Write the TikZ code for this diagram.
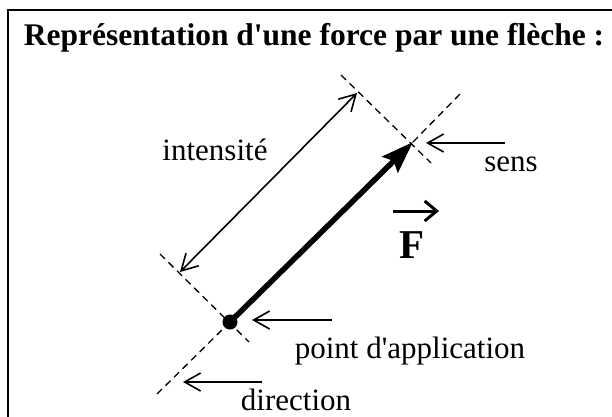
\documentclass[tikz,border=0pt]{standalone}
\usepackage{fontspec}
\setmainfont{Liberation Serif}[Ligatures=TeXOff]
\usetikzlibrary{arrows.meta}
\begin{document}
\begin{tikzpicture}[x=1pt,y=-1pt,
  lbl/.style={font=\fontsize{31}{31}\selectfont, inner sep=0pt, anchor=base},
  dashline/.style={line width=1.3pt, dash pattern=on 7pt off 5pt},
  thin/.style={line width=1.6pt, -{Straight Barb[length=16pt,width=18pt,line width=1.6pt]}},
  force/.style={line width=5.5pt, -{Stealth[length=32pt,width=22pt,inset=5pt]}}]
\useasboundingbox (0,0) rectangle (612,416);
\fill[white] (0,0) rectangle (612,416);
% frame
\draw[line width=2.4pt] (8,430) -- (8,10) -- (630,10);
% title
\node[lbl, font=\fontsize{31.5}{31.5}\selectfont\bfseries] (title) at (314,45) {Représentation d'une force par une flèche :};
% key points
\coordinate (A) at (230,322);
\coordinate (T) at (413,142);
\coordinate (d1) at (157,394);
\coordinate (d2) at (461,93);
\coordinate (pT1) at (341,75);
\coordinate (pT2) at (431,163);
\coordinate (pA1) at (160,254);
\coordinate (pA2) at (249,342);
\coordinate (i1) at (180,272);
\coordinate (i2) at (357,93);
% dashed construction lines
\draw[dashline] (d1) -- (A);
\draw[dashline] (T) -- (d2);
\draw[dashline] (pT1) -- (pT2);
\draw[dashline] (pA1) -- (pA2);
% intensity double arrow
\draw[line width=1.6pt, {Straight Barb[length=16pt,width=18pt,line width=1.6pt]}-{Straight Barb[length=16pt,width=18pt,line width=1.6pt]}] (i1) -- (i2);
% force
\draw[force] (A) -- (T);
\fill (A) circle (7.5);
% labels
\node[lbl] (int) at (215,160) {intensité};
\node[lbl] (sens) at (511,171) {sens};
\node[lbl] (pa) at (410,358) {point d'application};
\node[lbl] (dir) at (296,410) {direction};
\node[lbl, font=\fontsize{41}{41}\selectfont\bfseries] (F) at (412,258) {F};
\coordinate (fa1) at (393,211);
\coordinate (fa2) at (439,211);
\draw[line width=3pt, -{Straight Barb[length=12pt,width=20pt,line width=3pt]}] (fa1) -- (fa2);
% pointer arrows
\coordinate (s1) at (505,143);
\coordinate (s2) at (426,143);
\draw[thin] (s1) -- (s2);
\coordinate (p1) at (332,320);
\coordinate (p2) at (252,320);
\draw[thin] (p1) -- (p2);
\coordinate (r1) at (262,382);
\coordinate (r2) at (183,382);
\draw[thin] (r1) -- (r2);
\end{tikzpicture}
\end{document}
